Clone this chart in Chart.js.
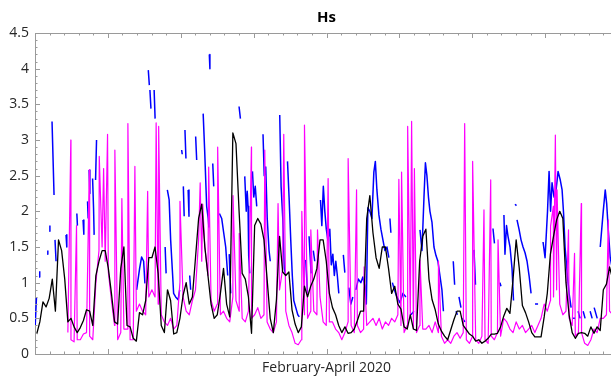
<!DOCTYPE html>
<html lang="en">
<head>
<meta charset="UTF-8">
<title>Hs</title>
<script src="https://cdn.jsdelivr.net/npm/chart.js@4.4.1/dist/chart.umd.min.js"></script>
<style>
    html, body { margin: 0; padding: 0; background: #fff; overflow: hidden; }
    #wrap { width: 630px; height: 376px; }
</style>
</head>
<body>
<div id="wrap"><canvas id="hs" width="630" height="376"></canvas></div>
<script>
// x axis: days since 1 Feb 2020, 0..90 (Feb-Apr)
const dayMax = 90;
const majorStep = 11.25;   // 8 major divisions
const minorStep = 2.25;    // 5 minor per major
const hsTicks = [0, 0.5, 1, 1.5, 2, 2.5, 3, 3.5, 4, 4.5];

// black and magenta series are read on a regular grid
const gridStart = -0.695, gridStep = 0.4806;

const blackHs = [
    null, null, 0.28, 0.45, 0.73, 0.66, 0.78, 1.05, 0.6, 1.6,
    1.45, 1.05, 0.45, 0.5, 0.38, 0.3, 0.37, 0.47, 0.62, 0.6,
    0.4, 1.1, 1.3, 1.45, 1.45, 1.2, 0.85, 0.45, 0.42, 1.2,
    1.5, 0.4, 0.38, 0.22, 0.18, 0.58, 0.55, 0.75, 1.35, 1.35,
    1.5, 1.13, 0.4, 0.3, 0.9, 0.75, 0.28, 0.3, 0.5, 0.82,
    1.0, 0.7, 0.8, 1.35, 1.9, 2.1, 1.5, 1.1, 0.7, 0.5,
    0.55, 0.85, 1.2, 0.7, 0.52, 3.1, 2.95, 2.0, 1.13, 1.05,
    0.8, 0.29, 1.8, 1.9, 1.82, 1.6, 1.05, 0.5, 0.3, 0.76,
    1.65, 1.15, 1.1, 1.15, 0.62, 0.42, 0.3, 0.38, 0.95, 0.8,
    0.95, 1.05, 1.2, 1.6, 1.6, 1.3, 0.85, 0.65, 0.55, 0.4,
    0.3, 0.38, 0.29, 0.3, 0.35, 0.47, 0.6, 0.6, 1.9, 2.22,
    1.7, 1.35, 1.2, 1.5, 1.5, 1.2, 0.85, 0.95, 0.7, 0.63,
    0.38, 0.35, 0.55, 0.35, 0.33, 1.3, 1.65, 1.75, 1.05, 0.76,
    0.62, 0.42, 0.32, 0.25, 0.2, 0.34, 0.48, 0.6, 0.6, 0.4,
    0.34, 0.28, 0.25, 0.18, 0.2, 0.15, 0.18, 0.22, 0.28, 0.28,
    0.29, 0.38, 0.53, 0.64, 0.57, 1.05, 1.6, 1.2, 0.68, 0.58,
    0.45, 0.3, 0.24, 0.24, 0.24, 0.52, 0.85, 1.4, 1.65, 1.88,
    2.0, 1.9, 1.0, 0.55, 0.3, 0.22, 0.29, 0.3, 0.29, 0.25,
    0.38, 0.29, 0.38, 0.33, 0.9, 0.98, 1.22, 1.05
];

const magentaHs = [
    null, null, null, null, null, null, null, null, null, null,
    null, null, 0.3, 0.2, 0.17, 0.2, 0.2, 0.28, 0.3, 0.25,
    0.2, 1.0, 1.45, 1.5, 1.3, 1.15, 0.75, 0.4, 0.2, 0.3,
    0.35, 0.35, 0.2, 0.2, 0.6, 0.7, 0.6, 0.55, 0.8, 0.9,
    0.8, 0.7, 0.55, 0.45, 0.4, 0.5, 0.35, 0.4, 1.0, 0.8,
    0.6, 0.55, 0.75, 0.9, 1.6, 1.3, 1.5, 1.1, 0.75, 0.6,
    0.7, 0.55, 0.6, 0.5, 0.45, 0.8, 0.75, 0.6, 0.5, 0.45,
    0.6, 0.5, 0.55, 0.65, 0.5, 0.55, 0.45, 0.35, 0.3, 0.45,
    0.9, 1.2, 0.6, 0.4, 0.3, 0.15, 0.13, 0.2, 0.55, 0.5,
    0.6, 0.6, 0.55, 0.8, 0.45, 0.4, 0.45, 0.45, 0.35, 0.3,
    0.2, 0.3, 0.45, 0.4, 0.3, 0.4, 0.3, 0.35, 0.4, 0.45,
    0.5, 0.4, 0.5, 0.35, 0.45, 0.4, 0.5, 0.45, 0.55, 0.4,
    0.3, 0.4, 0.5, 0.35, 0.3, 0.4, 0.35, 0.35, 0.4, 0.3,
    0.45, 0.3, 0.25, 0.15, 0.2, 0.15, 0.25, 0.3, 0.22, 0.3,
    0.2, 0.15, 0.25, 0.2, 0.15, 0.25, 0.2, 0.15, 0.25, 0.2,
    0.3, 0.25, 0.5, 0.45, 0.35, 0.3, 0.45, 0.35, 0.4, 0.3,
    0.35, 0.4, 0.3, 0.4, 0.5, 0.7, 0.6, 0.75, 0.8, 0.9,
    0.7, 0.55, 0.6, 0.5, 0.4, 0.25, 0.3, 0.3, 0.15, 0.12,
    0.2, 0.35, 0.3, 0.5, 0.5, 0.55, 0.6, 0.55
];

// narrow peaks of the magenta series
const spikeDay = [
    5.53, 6.41, 8.38, 9.92, 10.59, 11.20, 12.33, 13.41, 14.34, 15.42,
    17.39, 18.70, 19.09, 22.38, 25.50, 25.89, 26.81, 28.20, 30.57, 31.53,
    33.41, 35.47, 37.52, 38.40, 41.19, 41.60, 42.58, 43.61, 45.25, 48.34,
    49.64, 50.81, 56.17, 56.59, 57.53, 58.14, 58.57, 59.43, 62.28, 66.33,
    67.56, 69.31, 70.35, 71.48, 79.59, 80.02, 80.33, 80.59, 82.36, 83.29,
    84.33, 88.50
];
const spikeHs = [
    3.0, 1.8, 2.58, 2.77, 2.6, 3.08, 2.86, 2.18, 3.23, 2.63,
    2.28, 3.24, 3.19, 2.14, 2.4, 2.1, 2.62, 2.9, 2.22, 1.69,
    2.9, 2.86, 2.11, 3.08, 2.0, 3.21, 1.74, 1.74, 2.46, 2.74,
    2.3, 1.22, 2.45, 2.55, 3.19, 3.26, 2.6, 1.32, 1.3, 3.23,
    2.7, 2.02, 2.44, 1.6, 1.79, 2.07, 3.07, 2.3, 1.74, 1.41,
    2.11, 1.88
];

// blue series, broken into pieces (null = gap)
const blueDay = [
    0.03, 0.23, null, 0.62, 0.73, null, 1.89, 1.98, null, 2.21, 2.30, null,
    2.63, 2.94, null, 3.09, 3.25, null, 4.79, 4.91, null, 6.46, 6.55, null,
    7.42, 7.54, null, 8.11, 8.21, null, 8.35, 8.47, null, 8.89, 9.04, 9.13, null,
    9.35, 9.50, null,
    15.69, 16.15, 16.46, 16.77, 16.97, null, 17.49, 17.65, null, 17.74, 17.90, null,
    18.39, 18.54, null, 20.09, 20.24, null,
    20.43, 20.71, 20.94, 21.25, 21.40, 21.71, 22.10, 22.33, null,
    22.64, 22.73, null, 22.90, 23.03, null, 23.15, 23.30, null, 23.64, 23.77, null,
    23.88, 24.03, null, 24.80, 24.96, null, 25.96, 26.19, 26.50, 26.74, 26.84, null,
    26.91, 27.00, null, 27.44, 27.59, null, 28.47, 28.82, 29.13, 29.44, 29.75, null,
    29.98, 30.21, null, 31.50, 31.71, null,
    32.38, 32.61, 32.76, 32.89, 32.99, 33.15, null, 33.57, 33.77, 34.00, 34.23, null,
    35.20, 35.39, 35.62, 35.85, 36.13, 36.32, null, 37.78, 37.99, 38.25, 38.48, 38.71, null,
    38.98, 39.22, 39.48, 39.72, 39.95, 40.26, 40.57, 40.80, null,
    41.80, 42.07, null, 42.31, 42.62, null, 42.96, 43.19, null,
    44.07, 44.28, 44.51, 44.74, 44.97, 45.20, 45.51, 45.74, 45.98, 46.21, 46.44, 46.67, 46.90, null,
    47.60, 47.83, null, 48.45, 48.76, 49.07, null,
    49.53, 49.92, 50.30, 50.61, 50.92, 51.15, 51.39, 51.70, 52.01, 52.31, 52.54, 52.78,
    53.09, 53.40, 53.71, 54.02, 54.33, 54.63, null, 54.79, 54.94, null,
    55.17, 55.48, 55.87, 56.33, 56.80, 57.26, null, 58.03, 58.50, null,
    59.43, 59.74, 60.05, 60.27, 60.50, 60.74, 60.97, 61.28, 61.59, 61.90, 62.20, 62.51, 62.82, 63.05, null,
    64.57, 64.78, null, 64.98, 65.22, null, 65.45, 65.76, null, 65.99, 66.38, null,
    67.77, 68.00, null, 70.70, 70.93, null, 71.78, 71.93, null,
    72.39, 72.55, 72.79, 73.02, 73.33, 73.64, 73.87, null, 74.10, 74.33, null,
    74.41, 74.72, 75.03, 75.34, 75.65, 75.96, 76.27, 76.58, null, 77.19, 77.66, null,
    78.43, 78.74, 79.12, 79.36, 79.59, 79.82, 80.13, 80.44, 80.75, 81.06, 81.37, 81.60,
    81.83, 82.14, 82.45, 82.76, null,
    83.07, 83.38, null, 83.84, 84.15, null, 84.62, 84.92, null, 85.70, 86.01, null,
    86.32, 86.79, null,
    87.26, 87.49, 87.72, 88.03, 88.26, 88.49, 88.80, 89.11
];
const blueHs = [
    0.4, 0.8, null, 1.08, 1.16, null, 1.4, 1.45, null, 1.72, 1.8, null,
    3.26, 2.23, null, 1.6, 1.3, null, 1.67, 1.5, null, 1.97, 1.8, null,
    1.88, 1.68, null, 2.14, 1.9, null, 2.58, 2.25, null, 2.46, 2.04, 1.67, null,
    2.44, 3.0, null,
    0.9, 1.2, 1.36, 1.3, 0.99, null, 3.98, 3.77, null, 3.7, 3.44, null,
    3.7, 3.3, null, 1.5, 1.13, null,
    2.3, 2.16, 1.6, 1.1, 0.85, 0.8, 0.76, 0.9, null,
    2.86, 2.8, null, 2.35, 1.93, null, 3.14, 2.74, null, 2.3, 1.93, null,
    1.1, 0.9, null, 3.05, 2.72, null, 3.37, 2.86, 2.07, 1.9, 1.78, null,
    4.2, 4.0, null, 2.67, 2.35, null, 1.97, 1.9, 1.7, 1.5, 1.1, null,
    1.4, 0.85, null, 3.47, 3.3, null,
    2.49, 2.0, 2.28, 2.07, 1.37, 1.13, null, 2.56, 2.2, 2.35, 2.07, null,
    3.08, 2.5, 2.62, 1.9, 1.45, 1.3, null, 3.35, 2.35, 1.9, 1.2, 1.1, null,
    2.7, 2.2, 1.6, 1.1, 0.75, 0.65, 0.55, 0.52, null,
    1.32, 0.85, null, 1.65, 1.13, null, 1.45, 1.3, null,
    2.16, 1.8, 2.35, 2.0, 1.75, 1.6, 1.75, 1.25, 1.4, 1.1, 1.3, 1.1, 0.85, null,
    1.39, 1.14, null, 0.93, 0.7, 0.8, null,
    0.9, 1.05, 1.0, 1.08, 0.95, 0.7, 2.05, 2.0, 1.9, 2.55, 2.7, 2.3,
    1.95, 1.75, 1.6, 1.45, 1.5, 1.35, null, 1.9, 1.7, null,
    1.0, 0.9, 0.8, 0.72, 0.85, 0.8, null, 0.55, 0.6, null,
    1.74, 1.45, 2.2, 2.68, 2.5, 2.2, 2.0, 1.85, 1.5, 1.38, 1.3, 1.1, 0.9, 0.6, null,
    1.3, 0.97, null, 0.6, 0.55, null, 0.8, 0.65, null, 0.5, 0.45, null,
    1.46, 0.97, null, 1.76, 1.55, null, 1.0, 0.95, null,
    1.95, 1.4, 1.8, 1.65, 1.5, 1.2, 0.75, null, 2.1, 2.08, null,
    1.88, 1.75, 1.6, 1.5, 1.42, 1.3, 1.1, 0.85, null, 0.7, 0.7, null,
    1.57, 1.35, 2.0, 2.56, 2.0, 2.4, 2.2, 2.3, 2.56, 2.45, 2.3, 1.97,
    1.5, 1.15, 0.85, 0.65, null,
    0.5, 0.5, null, 0.6, 0.5, null, 0.6, 0.5, null, 0.6, 0.5, null,
    0.65, 0.5, null,
    1.5, 1.75, 2.0, 2.3, 2.1, 1.75, 1.35, 1.2
];

const axisColor = '#9a9a9a';
const textColor = '#262626';

// build point lists
const gridDay = blackHs.map((_, i) => gridStart + i * gridStep);
const blackPts = blackHs.map((v, i) => ({ x: gridDay[i], y: v }));
const magentaPts = magentaHs.map((v, i) => ({ x: gridDay[i], y: v }))
    .concat(spikeDay.map((d, i) => ({ x: d, y: spikeHs[i] })))
    .sort((a, b) => a.x - b.x);
let lastDay = 0;
const bluePts = blueHs.map((v, i) => {
    if (blueDay[i] !== null) lastDay = blueDay[i];
    return { x: lastDay, y: v };
});

// MATLAB-like inward tick marks and top box line
const insideTicks = {
    id: 'insideTicks',
    afterDraw(chart) {
        const { ctx, chartArea: a, scales: { x, y } } = chart;
        ctx.save();
        ctx.strokeStyle = axisColor;
        ctx.lineWidth = 1;
        ctx.beginPath();
        ctx.moveTo(a.left, a.top + 0.5);
        ctx.lineTo(a.right, a.top + 0.5);
        for (let k = 0; k <= 45; k++) {
            const py = Math.round(y.getPixelForValue(k / 10)) + 0.5;
            const len = k % 5 === 0 ? 5 : 2.5;
            ctx.moveTo(a.left, py);
            ctx.lineTo(a.left + len, py);
        }
        for (let k = 0; k * minorStep <= dayMax + 1e-6; k++) {
            const px = Math.round(x.getPixelForValue(k * minorStep)) + 0.5;
            const len = k % 5 === 0 ? 5 : 2.5;
            ctx.moveTo(px, a.top);
            ctx.lineTo(px, a.top + len);
            ctx.moveTo(px, a.bottom);
            ctx.lineTo(px, a.bottom - len);
        }
        ctx.stroke();
        ctx.restore();
    }
};

Chart.defaults.font.family = "'Open Sans', sans-serif";
Chart.defaults.color = textColor;

new Chart(document.getElementById('hs'), {
    type: 'line',
    data: {
        datasets: [
            { label: 'black', data: blackPts, borderColor: '#000000', borderWidth: 1.3 },
            { label: 'magenta', data: magentaPts, borderColor: '#ff00ff', borderWidth: 1.2 },
            { label: 'blue', data: bluePts, borderColor: '#0000ff', borderWidth: 1.5 }
        ]
    },
    options: {
        responsive: false,
        animation: false,
        devicePixelRatio: 1,
        spanGaps: false,
        layout: { padding: { left: 0, right: 12, top: 0, bottom: 0 } },
        elements: {
            point: { radius: 0 },
            line: { tension: 0, borderJoinStyle: 'round', fill: false }
        },
        plugins: {
            legend: { display: false },
            tooltip: { enabled: false },
            title: {
                display: true,
                text: 'Hs',
                fullSize: false,
                color: '#000',
                font: { size: 15, weight: 'bold' },
                padding: { top: 9, bottom: 6 }
            }
        },
        scales: {
            x: {
                type: 'linear',
                min: 0,
                max: dayMax,
                grid: { display: false },
                border: { display: true, color: axisColor, width: 1 },
                ticks: { display: false },
                title: {
                    display: true,
                    text: 'February-April 2020',
                    color: textColor,
                    font: { size: 14 },
                    padding: { top: 0, bottom: 0 }
                },
                afterFit(scale) { scale.height = 22; }
            },
            y: {
                min: 0,
                max: 4.5,
                afterBuildTicks(scale) { scale.ticks = hsTicks.map(v => ({ value: v })); },
                grid: { display: false, drawTicks: false },
                border: { display: true, color: axisColor, width: 1 },
                ticks: {
                    padding: 6,
                    color: textColor,
                    font: { size: 14 },
                    callback: v => String(Math.round(v * 10) / 10)
                },
                afterFit(scale) { scale.width = 35; }
            }
        }
    },
    plugins: [insideTicks]
});
</script>
</body>
</html>
